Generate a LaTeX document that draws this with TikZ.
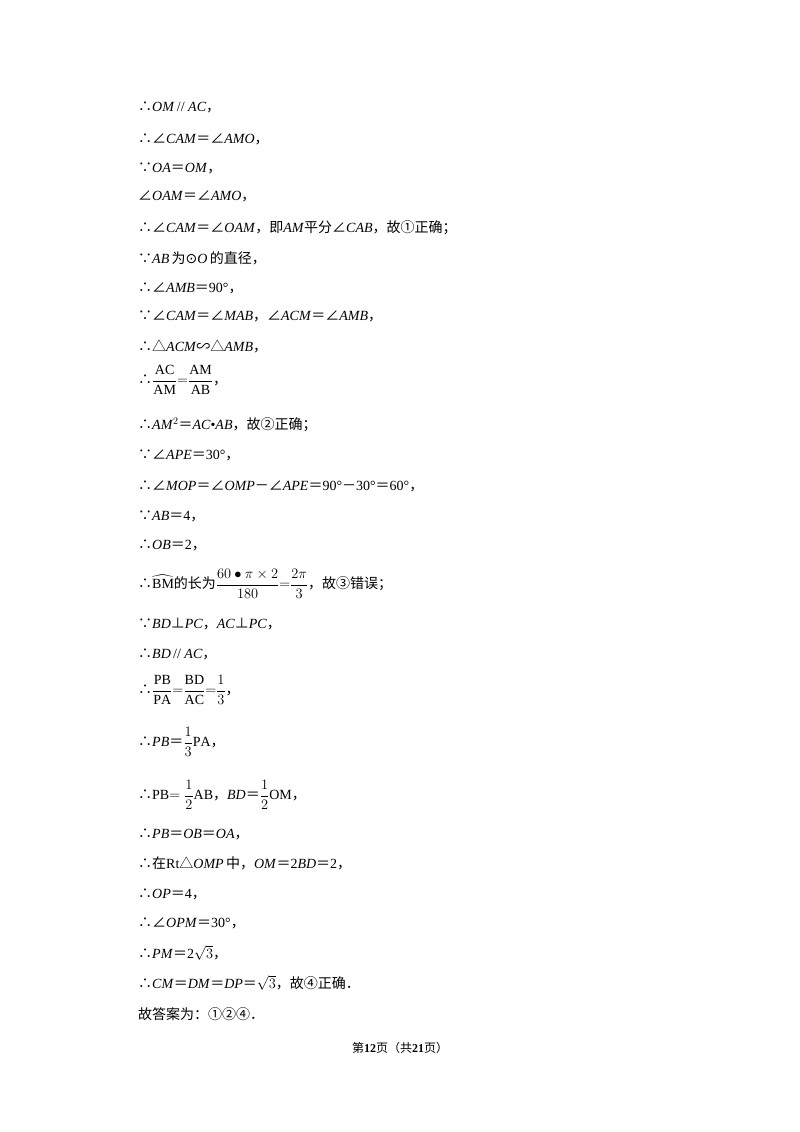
\documentclass[tikz,border=0pt]{standalone}
\usepackage{amsmath}
\usepackage{fontspec}
\setmainfont{Liberation Serif}
\newfontfamily\cjk{Noto Sans CJK SC}
\newfontfamily\dvs{DejaVu Sans}
\newcommand{\cj}[1]{{\cjk #1}}
\newcommand{\so}{\cj{∴}}
\newcommand{\be}{\cj{∵}}
\newcommand{\ang}{\cj{∠}}
\newcommand{\tri}{\cj{△}}
\newcommand{\pp}{\cj{⊥}}
\newcommand{\eq}{\cj{＝}}
\newcommand{\cm}{\cj{，}}
\newcommand{\mi}{\cj{－}}
\newcommand{\ii}[1]{\textit{#1}}
\begin{document}
\begin{tikzpicture}[x=1pt,y=1pt,
  ln/.style={anchor=west,inner sep=0pt,font=\fontsize{14}{16}\selectfont}]
\useasboundingbox (0,0) rectangle (800,-1132);
\fill[white] (0,0) rectangle (800,-1132);
\node[ln] (l1) at (138,-107) {\so\ii{OM}\,// \ii{AC}\cm};
\node[ln] (l2) at (138,-139) {\so\ang\ii{CAM}\eq\ang\ii{AMO}\cm};
\node[ln] (l3) at (138,-168) {\be\ii{OA}\eq\ii{OM}\cm};
\node[ln] (l4) at (138,-196) {\ang\ii{OAM}\eq\ang\ii{AMO}\cm};
\node[ln] (l5) at (138,-228) {\so\ang\ii{CAM}\eq\ang\ii{OAM}\cm\cj{即}\ii{AM}\cj{平分}\ang\ii{CAB}\cm\cj{故①正确；}};
\node[ln] (l6) at (138,-258) {\be\ii{AB}\,\cj{为}{\dvs ⊙}\ii{O}\,\cj{的直径，}};
\node[ln] (l7) at (138,-288) {\so\ang\ii{AMB}\eq 90°\cm};
\node[ln] (l8) at (138,-316) {\be\ang\ii{CAM}\eq\ang\ii{MAB}\cm\ang\ii{ACM}\eq\ang\ii{AMB}\cm};
\node[ln] (l9) at (138,-346) {\so\tri\ii{ACM}\cj{∽}\tri\ii{AMB}\cm};
\node[ln] (l10) at (138,-380) {\so$\dfrac{\mathrm{AC}}{\mathrm{AM}}{=}\dfrac{\mathrm{AM}}{\mathrm{AB}}$\cm};
\node[ln] (l11) at (138,-425) {\so\ii{AM}$^2$\eq\ii{AC}•\ii{AB}\cm\cj{故②正确；}};
\node[ln] (l12) at (138,-455) {\be\ang\ii{APE}\eq 30°\cm};
\node[ln] (l13) at (138,-486) {\so\ang\ii{MOP}\eq\ang\ii{OMP}\mi\ang\ii{APE}\eq 90°\mi 30°\eq 60°\cm};
\node[ln] (l14) at (138,-516) {\be\ii{AB}\eq 4\cm};
\node[ln] (l15) at (138,-545) {\so\ii{OB}\eq 2\cm};
\node[ln] (l16) at (138,-584) {\so$\widehat{\mathrm{BM}}$\cj{的长为}$\dfrac{60\bullet\pi\times2}{180}{=}\dfrac{2\pi}{3}$\cm\cj{故③错误；}};
\node[ln] (l17) at (138,-624) {\be\ii{BD}\pp\ii{PC}\cm\ii{AC}\pp\ii{PC}\cm};
\node[ln] (l18) at (138,-654) {\so\ii{BD}\,// \ii{AC}\cm};
\node[ln] (l19) at (138,-690) {\so$\dfrac{\mathrm{PB}}{\mathrm{PA}}{=}\dfrac{\mathrm{BD}}{\mathrm{AC}}{=}\dfrac{1}{3}$\cm};
\node[ln] (l20) at (138,-742) {\so\ii{PB}\eq$\dfrac{1}{3}\mathrm{PA}$\cm};
\node[ln] (l21) at (138,-795) {\so PB$=\dfrac{1}{2}\mathrm{AB}$\cm\ii{BD}\eq$\dfrac{1}{2}\mathrm{OM}$\cm};
\node[ln] (l22) at (138,-834) {\so\ii{PB}\eq\ii{OB}\eq\ii{OA}\cm};
\node[ln] (l23) at (138,-863) {\so\cj{在}Rt\tri\ii{OMP}\,\cj{中，}\ii{OM}\eq 2\ii{BD}\eq 2\cm};
\node[ln] (l24) at (138,-894) {\so\ii{OP}\eq 4\cm};
\node[ln] (l25) at (138,-923) {\so\ang\ii{OPM}\eq 30°\cm};
\node[ln] (l26) at (138,-953) {\so\ii{PM}\eq 2$\sqrt{3}$\cm};
\node[ln] (l27) at (138,-983) {\so\ii{CM}\eq\ii{DM}\eq\ii{DP}\eq$\sqrt{3}$\cm\cj{故④正确．}};
\node[ln] (l28) at (138,-1014) {\cj{故答案为：①②④．}};
\node[anchor=center,inner sep=0pt,font=\fontsize{12}{14}\selectfont] (ft) at (400,-1048) {\cj{第}\textbf{12}\cj{页（共}\textbf{21}\cj{页）}};
\end{tikzpicture}
\end{document}
